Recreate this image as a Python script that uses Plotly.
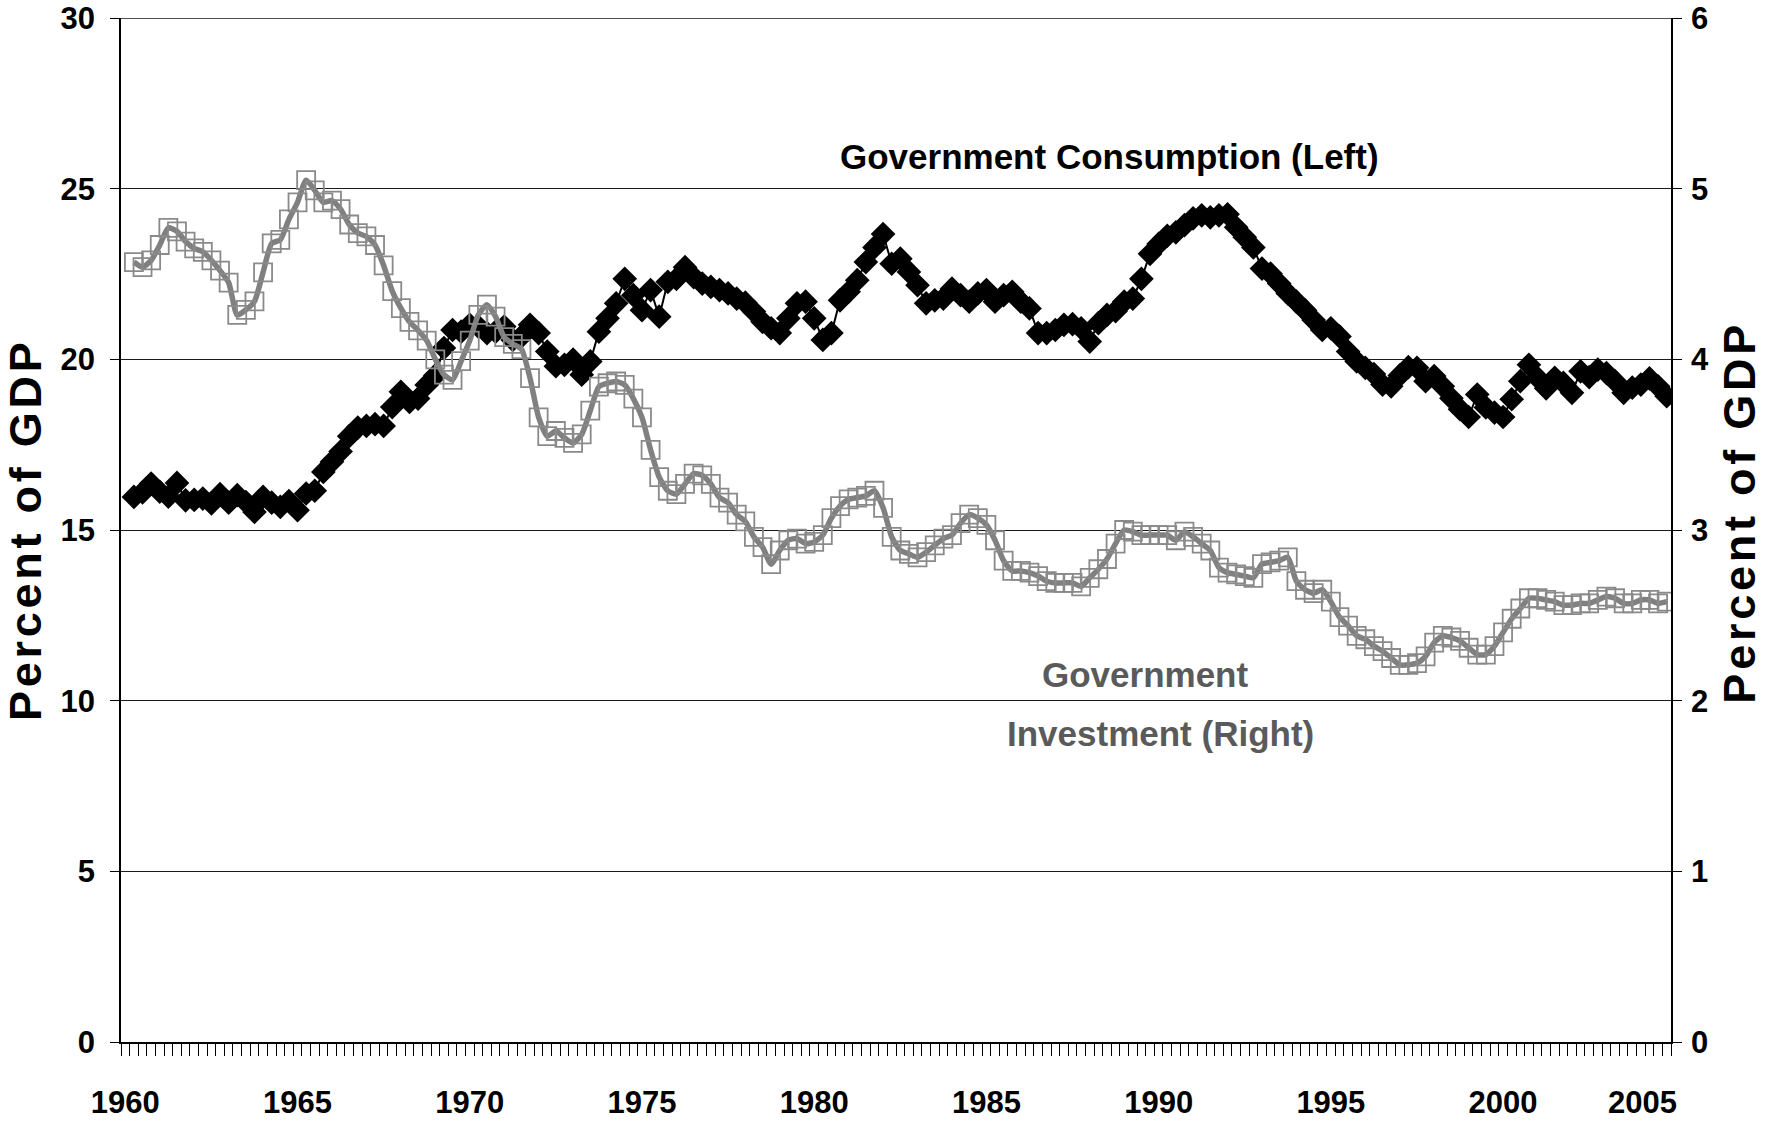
import plotly.graph_objects as go

FONT = "Liberation Sans Narrow, Arial Narrow, Liberation Sans, Arial, sans-serif"

# Quarterly data, 1960Q2 .. 2004Q4 (one year per line)
consumption = [  # percent of GDP, left axis
    15.97, 16.10, 16.36,
    16.12, 15.98, 16.38, 15.87,
    15.88, 15.92, 15.78, 16.05,
    15.80, 16.02, 15.82, 15.53,
    15.97, 15.80, 15.68, 15.85,
    15.58, 16.07, 16.15, 16.70,
    17.00, 17.30, 17.75, 18.00,
    18.05, 18.10, 18.05, 18.60,
    19.05, 18.75, 18.85, 19.25,
    19.53, 20.33, 20.86, 20.81,
    21.01, 20.96, 20.77, 20.81,
    20.96, 20.57, 20.67, 21.01,
    20.77, 20.23, 19.80, 19.84,
    19.99, 19.55, 19.94, 20.81,
    21.20, 21.64, 22.36, 21.88,
    21.44, 22.03, 21.25, 22.27,
    22.36, 22.70, 22.41, 22.22,
    22.12, 22.03, 21.93, 21.78,
    21.66, 21.40, 21.10, 20.91,
    20.77, 21.20, 21.64, 21.69,
    21.20, 20.57, 20.77, 21.73,
    21.98, 22.32, 22.85, 23.28,
    23.67, 22.80, 22.95, 22.56,
    22.17, 21.64, 21.73, 21.78,
    22.07, 21.88, 21.69, 21.93,
    22.03, 21.69, 21.88, 21.98,
    21.69, 21.49, 20.77, 20.77,
    20.86, 21.01, 21.03, 20.91,
    20.52, 21.06, 21.30, 21.41,
    21.69, 21.78, 22.36, 23.09,
    23.38, 23.62, 23.72, 23.93,
    24.13, 24.22, 24.16, 24.22,
    24.25, 23.87, 23.58, 23.28,
    22.66, 22.51, 22.22, 21.93,
    21.69, 21.44, 21.15, 20.86,
    20.91, 20.67, 20.23, 19.94,
    19.75, 19.57, 19.26, 19.21,
    19.53, 19.77, 19.75, 19.36,
    19.51, 19.21, 18.86, 18.54,
    18.31, 18.97, 18.59, 18.44,
    18.31, 18.83, 19.36, 19.84,
    19.46, 19.15, 19.46, 19.31,
    19.02, 19.65, 19.48, 19.70,
    19.60, 19.36, 19.02, 19.17,
    19.26, 19.44, 19.21, 18.92,
]

investment = [  # percent of GDP, right axis
    4.57, 4.54, 4.58,
    4.67, 4.77, 4.75, 4.69,
    4.65, 4.63, 4.58, 4.52,
    4.45, 4.26, 4.29, 4.34,
    4.51, 4.68, 4.70, 4.82,
    4.92, 5.05, 4.99, 4.92,
    4.93, 4.88, 4.79, 4.74,
    4.72, 4.67, 4.55, 4.40,
    4.30, 4.22, 4.17, 4.11,
    4.00, 3.91, 3.88, 3.99,
    4.11, 4.26, 4.32, 4.25,
    4.13, 4.09, 4.06, 3.89,
    3.66, 3.55, 3.58, 3.54,
    3.51, 3.56, 3.70, 3.84,
    3.86, 3.87, 3.85, 3.77,
    3.66, 3.47, 3.31, 3.23,
    3.21, 3.27, 3.33, 3.32,
    3.27, 3.19, 3.16, 3.09,
    3.05, 2.96, 2.90, 2.80,
    2.88, 2.94, 2.95, 2.92,
    2.93, 2.97, 3.07, 3.14,
    3.18, 3.19, 3.20, 3.23,
    3.13, 2.96, 2.88, 2.86,
    2.84, 2.87, 2.91, 2.95,
    2.97, 3.04, 3.09, 3.07,
    3.03, 2.94, 2.82, 2.76,
    2.76, 2.75, 2.73, 2.70,
    2.69, 2.69, 2.69, 2.67,
    2.72, 2.77, 2.83, 2.92,
    3.00, 2.99, 2.97, 2.97,
    2.97, 2.97, 2.94, 2.99,
    2.96, 2.92, 2.88, 2.78,
    2.75, 2.74, 2.73, 2.72,
    2.80, 2.81, 2.82, 2.84,
    2.70, 2.65, 2.63, 2.65,
    2.58, 2.49, 2.44, 2.38,
    2.36, 2.32, 2.29, 2.25,
    2.21, 2.21, 2.22, 2.26,
    2.34, 2.38, 2.37, 2.35,
    2.31, 2.27, 2.27, 2.32,
    2.40, 2.48, 2.54, 2.60,
    2.60, 2.59, 2.58, 2.56,
    2.56, 2.57, 2.57, 2.59,
    2.61, 2.60, 2.57, 2.57,
    2.59, 2.59, 2.57, 2.58,
]

year_labels = ["1960", "1965", "1970", "1975", "1980", "1985", "1990", "1995", "2000", "2005"]
# the last label sits just inside the right edge, as in the source chart
label_pos = [1960, 1965, 1970, 1975, 1980, 1985, 1990, 1995, 2000, 2004.05]

quarters = [1960 + q / 4 for q in range(1, len(consumption) + 1)]

# letter-spaced axis title (hair spaces between the characters)
axis_title = "\u200a".join("Percent of GDP")

fig = go.Figure()

fig.add_trace(
    go.Scatter(
        x=quarters, y=consumption, mode="lines+markers",
        line=dict(color="black", width=2),
        marker=dict(symbol="diamond", size=19, color="black"),
        name="Government Consumption (Left)", showlegend=False,
    )
)
fig.add_trace(
    go.Scatter(
        x=quarters, y=investment, yaxis="y2", mode="lines+markers",
        line=dict(color="#808080", width=5.5, shape="spline", smoothing=0.6),
        marker=dict(symbol="square-open", size=18, color="#8a8a8a", line=dict(width=1.8)),
        name="Government Investment (Right)", showlegend=False,
    )
)

tick_font = dict(family=FONT, size=31, color="black", weight="bold")
title_font = dict(family=FONT, size=45, color="black", weight="bold")
note_font = dict(family=FONT, size=35, color="black", weight="bold")
note_font_grey = dict(family=FONT, size=35, color="#5a5a5a", weight="bold")

fig.update_layout(
    width=1767,
    height=1124,
    paper_bgcolor="white",
    plot_bgcolor="white",
    margin=dict(l=121, r=96, t=18, b=82),
    xaxis=dict(
        range=[1959.875, 2004.875], automargin=False,
        tickmode="array", tickvals=label_pos, ticktext=year_labels,
        ticks="", tickfont=tick_font, ticklabelstandoff=32,
        ticklabeloverflow="allow",
        showline=True, linecolor="black", linewidth=1.5,
        showgrid=False, zeroline=False,
        minor=dict(ticks="outside", tick0=1959.875, dtick=0.25, ticklen=12,
                   tickcolor="black", tickwidth=1, showgrid=False),
    ),
    yaxis=dict(
        range=[0, 30], automargin=False,
        tickmode="array", tickvals=[0, 5, 10, 15, 20, 25, 30],
        ticks="outside", ticklen=9, tickcolor="black", tickfont=tick_font,
        ticklabelstandoff=9, ticklabeloverflow="allow",
        showline=True, linecolor="black", linewidth=1.5,
        showgrid=True, gridcolor="#1a1a1a", gridwidth=1, zeroline=False,
    ),
    yaxis2=dict(
        range=[0, 6], automargin=False,
        tickmode="array", tickvals=[0, 1, 2, 3, 4, 5, 6],
        overlaying="y", side="right",
        ticks="outside", ticklen=9, tickcolor="black", tickfont=tick_font,
        ticklabelstandoff=3, ticklabeloverflow="allow",
        showline=True, linecolor="black", linewidth=1.5,
        showgrid=False, zeroline=False,
    ),
    shapes=[
        # top gridline (30 / 6) at the upper edge of the plot area
        dict(type="line", xref="paper", yref="y", x0=0, x1=1, y0=30, y1=30,
             line=dict(color="#4d4d4d", width=2)),
    ],
    annotations=[
        dict(text=axis_title, textangle=-90, font=title_font,
             xref="paper", yref="paper", x=0, y=0.498, xshift=-96,
             xanchor="center", yanchor="middle", showarrow=False),
        dict(text=axis_title, textangle=-90, font=title_font,
             xref="paper", yref="paper", x=1, y=0.515, xshift=69,
             xanchor="center", yanchor="middle", showarrow=False),
        dict(text="Government Consumption (Left)", font=note_font,
             xref="paper", yref="paper", x=0.6375, y=0.865,
             xanchor="center", yanchor="middle", showarrow=False),
        dict(text="Government", font=note_font_grey,
             xref="paper", yref="paper", x=0.6608, y=0.359,
             xanchor="center", yanchor="middle", showarrow=False),
        dict(text="Investment (Right)", font=note_font_grey,
             xref="paper", yref="paper", x=0.6704, y=0.301,
             xanchor="center", yanchor="middle", showarrow=False),
    ],
)

# drop the browser's default body margin so the figure fills the window exactly
fig.write_html(
    "out.html",
    config={"displayModeBar": False},
    post_script="document.body.style.margin = '0'; document.body.style.overflow = 'hidden';",
)
